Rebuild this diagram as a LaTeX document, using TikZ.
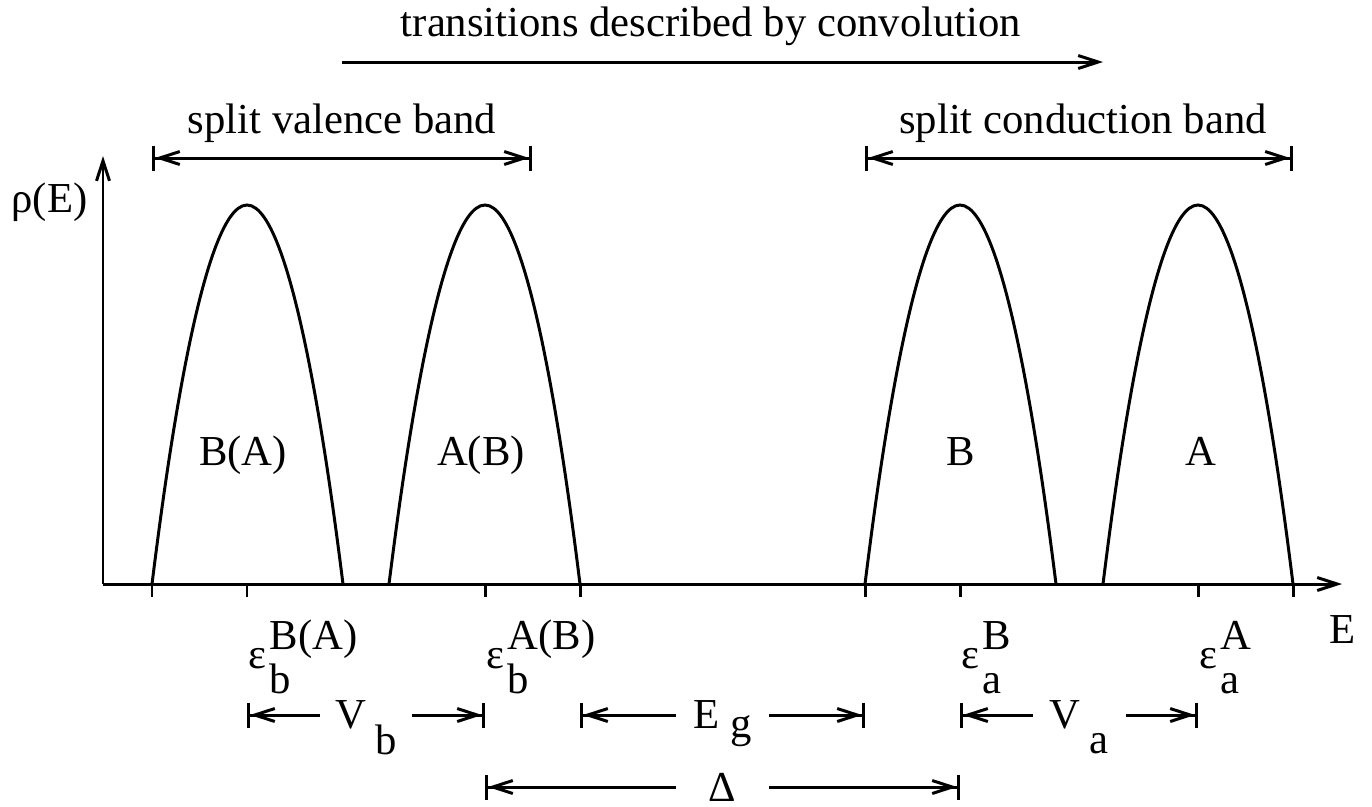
\documentclass[tikz,border=0pt]{standalone}
\usepackage{fontspec}
\setmainfont{Liberation Serif}
\usetikzlibrary{arrows.meta, positioning}

\begin{document}
\begin{tikzpicture}[x=0.02cm, y=-0.02cm, line width=1.7pt, font=\fontsize{24.3}{29}\selectfont]
\tikzstyle{axis} = [arrows={-Straight Barb[length=0.4cm, width=0.26cm]}]
\tikzstyle{dim} = [arrows={Bar[width=0.5cm]Straight Barb[length=0.4cm, width=0.26cm]-Straight Barb[length=0.4cm, width=0.26cm]Bar[width=0.5cm]}]
\tikzstyle{gap} = [fill=white, inner sep=0pt, minimum width=1.86cm, minimum height=0.3cm]
\tikzstyle{lbl} = [inner sep=0pt, anchor=base]
\useasboundingbox (0,0) rectangle (1372,806);

% axes
\coordinate (O) at (103,584);
\coordinate (xend) at (1342,584);
\coordinate (yend) at (103,156);
\draw [axis] (O) -- (xend);
\draw [axis] (O) -- (yend);
\node (rho) [lbl, anchor=base west] at (10,212) {ρ(E)};
\node (E) [lbl, anchor=base west] at (1328,643) {E};

% ticks
\foreach \x in {152,247,485,580,865,960,1198,1293}
  \draw (\x,584) -- (\x,597);

% bands
\foreach \l/\c/\r in {152/247/343, 389/485/580, 865/960/1056, 1103/1198/1293}
  \draw (\l,584) parabola bend (\c,205) (\r,584);
\node (bandBA) [lbl] at (243,465) {B(A)};
\node (bandAB) [lbl] at (481,465) {A(B)};
\node (bandB) [lbl] at (961,465) {B};
\node (bandA) [lbl] at (1201,465) {A};

% level labels
\node (epsBA) [lbl, anchor=base west] at (247,668) {ε\kern0.08em\rlap{\raisebox{0.44em}{B(A)}}\raisebox{-0.59em}{b}};
\node (epsAB) [lbl, anchor=base west] at (485,668) {ε\kern0.08em\rlap{\raisebox{0.44em}{A(B)}}\raisebox{-0.59em}{b}};
\node (epsB) [lbl, anchor=base west] at (960,668) {ε\kern0.08em\rlap{\raisebox{0.44em}{B}}\raisebox{-0.59em}{a}};
\node (epsA) [lbl, anchor=base west] at (1198,668) {ε\kern0.08em\rlap{\raisebox{0.44em}{A}}\raisebox{-0.59em}{a}};

% widths
\coordinate (vbL) at (247,715);
\coordinate (vbR) at (485,715);
\coordinate (egL) at (580,715);
\coordinate (egR) at (865,715);
\coordinate (vaL) at (960,715);
\coordinate (vaR) at (1198,715);
\coordinate (dL) at (485,787);
\coordinate (dR) at (960,787);
\draw [dim] (vbL) -- (vbR) node (Vb) [gap, midway] {V\hspace{0.2em}\smash{\raisebox{-0.6em}{b}}};
\draw [dim] (egL) -- (egR) node (Eg) [gap, midway] {E\hspace{0.25em}\smash{\raisebox{-0.2em}{g}}};
\draw [dim] (vaL) -- (vaR) node (Va) [gap, midway] {V\hspace{0.2em}\smash{\raisebox{-0.58em}{a}}};
\draw [dim] (dL) -- (dR) node (Delta) [gap, midway] {Δ};

% split bands
\coordinate (valL) at (152,158);
\coordinate (valR) at (532,158);
\coordinate (conL) at (865,158);
\coordinate (conR) at (1293,158);
\draw [dim] (valL) -- (valR);
\draw [dim] (conL) -- (conR);
\node (valence) [lbl] at (342,133) {split valence band};
\node (conduction) [lbl] at (1083,133) {split conduction band};

% transitions
\coordinate (trL) at (342,62);
\coordinate (trR) at (1103,62);
\draw [axis] (trL) -- (trR);
\node (trans) [lbl] at (711,36) {transitions described by convolution};
\end{tikzpicture}
\end{document}
